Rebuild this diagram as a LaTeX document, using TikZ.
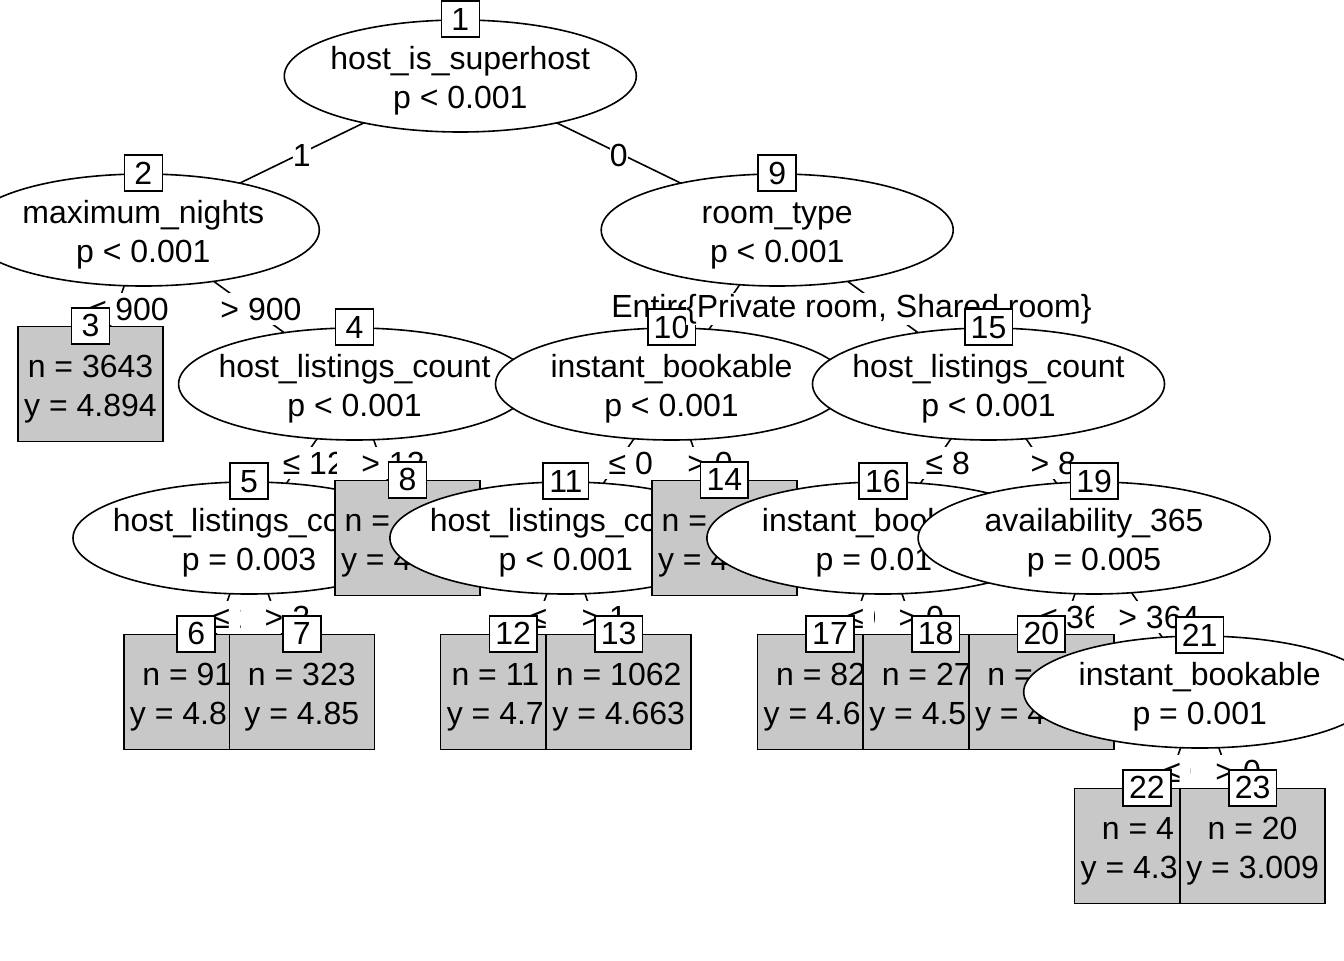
\documentclass[tikz,border=0pt]{standalone}
\usepackage{fontspec}
\setmainfont{Liberation Sans}
\usetikzlibrary{shapes.geometric}
\definecolor{leafgray}{HTML}{C8C8C8}
\newcommand{\twolines}[2]{\makebox[0pt]{\rule{0pt}{16.5pt}#1}\\\makebox[0pt]{#2}}

\begin{document}
\begin{tikzpicture}[x=0.5pt, y=-0.5pt, line width=0.8pt,
	every node/.style={font=\fontsize{16}{19.2}\selectfont}]
		\tikzset{splitnode/.style = {shape=ellipse, draw, fill=white, align=center, inner sep=0pt, minimum width=176pt, minimum height=56pt}}
		\tikzset{leaf/.style = {shape=rectangle, draw, fill=leafgray, align=center, inner sep=0pt, minimum width=72.5pt, minimum height=57.5pt}}
		\tikzset{nodeid/.style = {shape=rectangle, draw, fill=white, inner xsep=3pt, inner ysep=0pt, minimum width=19pt, minimum height=18pt}}
		\tikzset{elab/.style = {fill=white, inner xsep=0pt, inner ysep=0pt, minimum height=16pt, yshift=-1pt}}
		\tikzset{elabnum/.style = {elab, xshift=6pt, inner xsep=12pt}}
		\useasboundingbox (0,0) rectangle (1344,960);
		\clip (0,0) rectangle (1344,960);
		% positions
		\coordinate (c1) at (460.3,76);
		\coordinate (c2) at (143.3,230);
		\coordinate (c3) at (90.5,384);
		\coordinate (c4) at (354.6,384);
		\coordinate (c5) at (249.0,538);
		\coordinate (c6) at (196.2,692);
		\coordinate (c7) at (301.8,692);
		\coordinate (c8) at (407.4,538);
		\coordinate (c9) at (777.2,230);
		\coordinate (c10) at (671.5,384);
		\coordinate (c11) at (565.9,538);
		\coordinate (c12) at (513.1,692);
		\coordinate (c13) at (618.7,692);
		\coordinate (c14) at (724.4,538);
		\coordinate (c15) at (988.5,384);
		\coordinate (c16) at (882.9,538);
		\coordinate (c17) at (830.0,692);
		\coordinate (c18) at (935.6,692);
		\coordinate (c19) at (1094.1,538);
		\coordinate (c20) at (1041.3,692);
		\coordinate (c21) at (1199.7,692);
		\coordinate (c22) at (1146.9,846);
		\coordinate (c23) at (1252.6,846);
		% node 1
		\draw (c1) -- (c2);
		\draw (c1) -- (c9);
		\node[splitnode] (n1) at (c1) {\twolines{host\_is\_superhost}{p < 0.001}};
		\node[nodeid] (i1) at (n1.north) {1};
		\path (c1) -- node[elab] (e2) {1} (c2);
		% node 2
		\draw (c2) -- (c3);
		\draw (c2) -- (c4);
		\node[splitnode] (n2) at (c2) {\twolines{maximum\_nights}{p < 0.001}};
		\node[nodeid] (i2) at (n2.north) {2};
		\path (c2) -- node[elabnum] (e3) {≤ 900} (c3);
		\node[leaf] (n3) at (c3) {\twolines{n = 3643}{y = 4.894}};
		\node[nodeid] (i3) at (n3.north) {3};
		\path (c2) -- node[elabnum] (e4) {> 900} (c4);
		% node 4
		\draw (c4) -- (c5);
		\draw (c4) -- (c8);
		\node[splitnode] (n4) at (c4) {\twolines{host\_listings\_count}{p < 0.001}};
		\node[nodeid] (i4) at (n4.north) {4};
		\path (c4) -- node[elabnum] (e5) {≤ 12} (c5);
		% node 5
		\draw (c5) -- (c6);
		\draw (c5) -- (c7);
		\node[splitnode] (n5) at (c5) {\twolines{host\_listings\_count}{p = 0.003}};
		\node[nodeid] (i5) at (n5.north) {5};
		\path (c5) -- node[elabnum] (e6) {≤ 2} (c6);
		\node[leaf] (n6) at (c6) {\twolines{n = 91\phantom{0}}{y = 4.8\phantom{00}}};
		\node[nodeid] (i6) at (n6.north) {6};
		\path (c5) -- node[elabnum] (e7) {> 2} (c7);
		\node[leaf] (n7) at (c7) {\twolines{n = 323}{y = 4.85}};
		\node[nodeid] (i7) at (n7.north) {7};
		\path (c4) -- node[elabnum] (e8) {> 12} (c8);
		\node[leaf] (n8) at (c8) {\twolines{n = \phantom{0000}}{y = 4\phantom{.000}}};
		\node[nodeid] (i8) at (n8.north) {8};
		\path (c1) -- node[elab] (e9) {0} (c9);
		% node 9
		\draw (c9) -- (c10);
		\draw (c9) -- (c15);
		\node[splitnode] (n9) at (c9) {\twolines{room\_type}{p < 0.001}};
		\node[nodeid] (i9) at (n9.north) {9};
		\path (c9) -- node[elab] (e10) {Entire home/apt} (c10);
		% node 10
		\draw (c10) -- (c11);
		\draw (c10) -- (c14);
		\node[splitnode] (n10) at (c10) {\twolines{instant\_bookable}{p < 0.001}};
		\node[nodeid] (i10) at (n10.north) {10};
		\path (c10) -- node[elabnum] (e11) {≤ 0} (c11);
		% node 11
		\draw (c11) -- (c12);
		\draw (c11) -- (c13);
		\node[splitnode] (n11) at (c11) {\twolines{host\_listings\_count}{p < 0.001}};
		\node[nodeid] (i11) at (n11.north) {11};
		\path (c11) -- node[elabnum] (e12) {≤ 1} (c12);
		\node[leaf] (n12) at (c12) {\twolines{n = 11\phantom{00}}{y = 4.7\phantom{00}}};
		\node[nodeid] (i12) at (n12.north) {12};
		\path (c11) -- node[elabnum] (e13) {> 1} (c13);
		\node[leaf] (n13) at (c13) {\twolines{n = 1062}{y = 4.663}};
		\node[nodeid] (i13) at (n13.north) {13};
		\path (c10) -- node[elabnum] (e14) {> 0} (c14);
		\node[leaf] (n14) at (c14) {\twolines{n = \phantom{0000}}{y = 4\phantom{.000}}};
		\node[nodeid] (i14) at (n14.north) {14};
		\path (c9) -- node[elab, xshift=3pt] (e15) {\{Private room, Shared room\}} (c15);
		% node 15
		\draw (c15) -- (c16);
		\draw (c15) -- (c19);
		\node[splitnode] (n15) at (c15) {\twolines{host\_listings\_count}{p < 0.001}};
		\node[nodeid] (i15) at (n15.north) {15};
		\path (c15) -- node[elabnum] (e16) {≤ 8} (c16);
		% node 16
		\draw (c16) -- (c17);
		\draw (c16) -- (c18);
		\node[splitnode] (n16) at (c16) {\twolines{instant\_bookable}{p = 0.01\phantom{0}}};
		\node[nodeid] (i16) at (n16.north) {16};
		\path (c16) -- node[elabnum] (e17) {≤ 0} (c17);
		\node[leaf] (n17) at (c17) {\twolines{n = 82\phantom{0}}{y = 4.6\phantom{00}}};
		\node[nodeid] (i17) at (n17.north) {17};
		\path (c16) -- node[elabnum] (e18) {> 0} (c18);
		\node[leaf] (n18) at (c18) {\twolines{n = 27\phantom{0}}{y = 4.5\phantom{00}}};
		\node[nodeid] (i18) at (n18.north) {18};
		\path (c15) -- node[elabnum] (e19) {> 8} (c19);
		% node 19
		\draw (c19) -- (c20);
		\draw (c19) -- (c21);
		\node[splitnode] (n19) at (c19) {\twolines{availability\_365}{p = 0.005}};
		\node[nodeid] (i19) at (n19.north) {19};
		\path (c19) -- node[elabnum] (e20) {≤ 364} (c20);
		\node[leaf] (n20) at (c20) {\twolines{n = \phantom{000}}{y = 4\phantom{.000}}};
		\node[nodeid] (i20) at (n20.north) {20};
		\path (c19) -- node[elabnum] (e21) {> 364} (c21);
		% node 21
		\draw (c21) -- (c22);
		\draw (c21) -- (c23);
		\node[splitnode] (n21) at (c21) {\twolines{instant\_bookable}{p = 0.001}};
		\node[nodeid] (i21) at (n21.north) {21};
		\path (c21) -- node[elabnum] (e22) {≤ 0} (c22);
		\node[leaf] (n22) at (c22) {\twolines{n = 4\phantom{0}}{y = 4.3\phantom{00}}};
		\node[nodeid] (i22) at (n22.north) {22};
		\path (c21) -- node[elabnum] (e23) {> 0} (c23);
		\node[leaf] (n23) at (c23) {\twolines{n = 20}{y = 3.009}};
		\node[nodeid] (i23) at (n23.north) {23};
\end{tikzpicture}
\end{document}
